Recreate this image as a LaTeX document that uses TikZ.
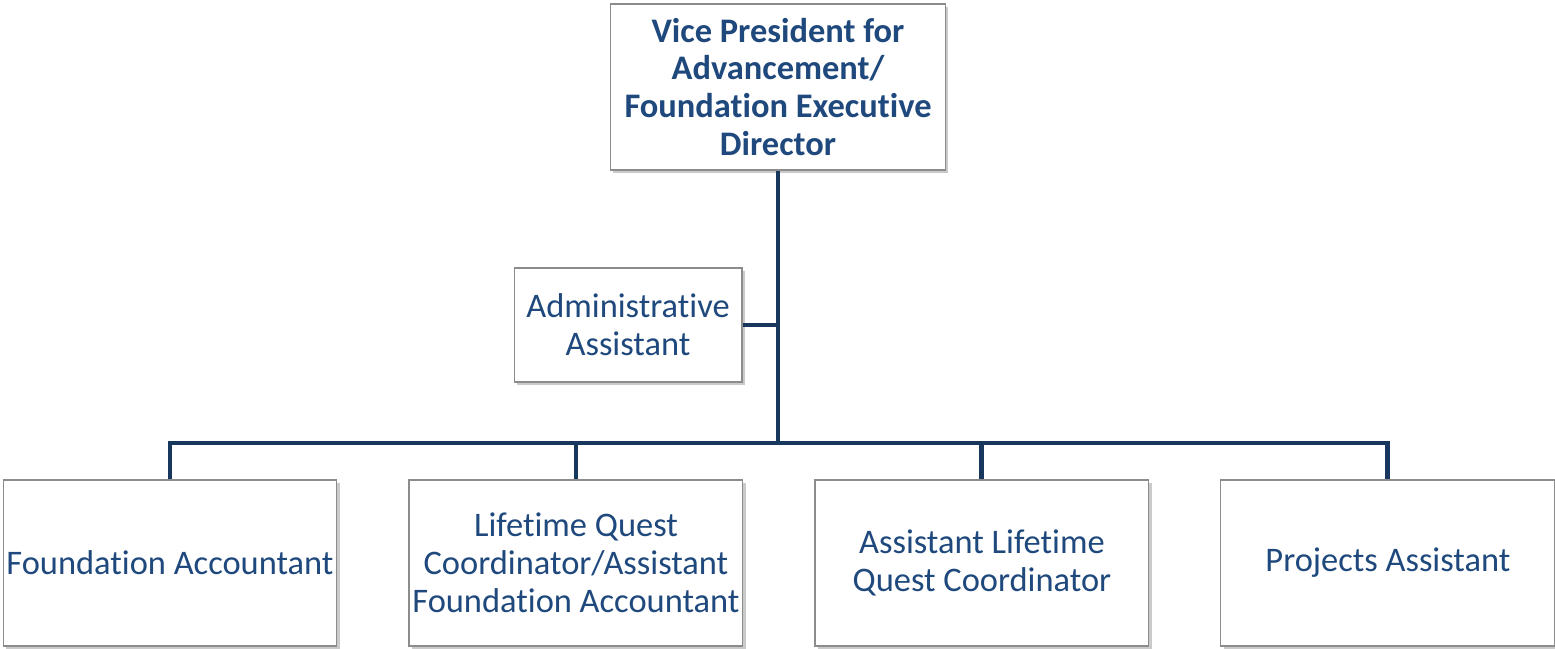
\documentclass[tikz,border=0pt]{standalone}
\usepackage{fontspec}
\setmainfont[RawFeature={-liga;-clig;-dlig;-calt}]{Carlito}
\usetikzlibrary{positioning, shadows}
\definecolor{orgtext}{RGB}{31,73,125}
\definecolor{orgline}{RGB}{23,55,94}
\definecolor{orgframe}{RGB}{140,140,140}

\tikzset{
    orgbox/.style={draw=orgframe, line width=0.6pt, fill=white, align=center,
        text=orgtext, inner sep=1pt, font=\fontsize{19.6}{21.6}\selectfont,
        drop shadow={shadow xshift=1.5pt, shadow yshift=-1.5pt, opacity=0.35, fill=black!60},
        minimum width=6.68cm, minimum height=3.32cm},
    link/.style={draw=orgline, line width=2.8pt}
}

\begin{document}
\begin{tikzpicture}[x=0.02cm, y=-0.02cm]
                \useasboundingbox (0,0) rectangle (1555,649);
                % head of the unit
                \node [orgbox, minimum width=6.7cm, font=\fontsize{19.6}{21.6}\selectfont\bfseries] (vp) at (778,87)
                    {Vice President for\\Advancement/\\Foundation Executive\\Director};
                \node [orgbox, minimum width=4.56cm, minimum height=2.28cm] (admin) at (628,325)
                    {Administrative\\Assistant};
                % staff row
                \node [orgbox] (acct) at (170,563) {Foundation Accountant};
                \node [orgbox, right = 1.42cm of acct] (lqc) {Lifetime Quest\\Coordinator/Assistant\\Foundation Accountant};
                \node [orgbox, right = 1.42cm of lqc] (alqc) {Assistant Lifetime\\Quest Coordinator};
                \node [orgbox, right = 1.42cm of alqc] (proj) {Projects Assistant};
                \coordinate (hub) at (778,443);
                % reporting lines
                \path [link] (vp.south) -- (hub);
                \path [link] (admin.east) -- (admin.east -| hub);
                \path [link] (acct.north) |- (hub) -| (proj.north);
                \path [link] (lqc.north) -- (lqc.north |- hub);
                \path [link] (alqc.north) -- (alqc.north |- hub);
            \end{tikzpicture}
\end{document}
